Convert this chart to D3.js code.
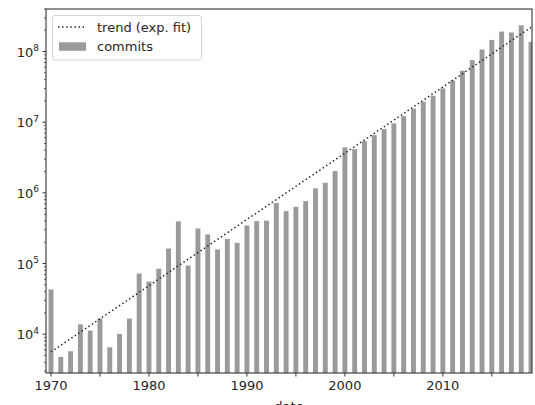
<!DOCTYPE html>
<html>
<head>
<meta charset="utf-8">
<script src="https://cdn.jsdelivr.net/npm/d3@7"></script>
<style>
  body { margin: 0; background: #fff; }
  svg { display: block; font-family: "DejaVu Sans", sans-serif; }
</style>
</head>
<body>
<svg id="chart" width="535" height="405"></svg>
<script>
// commits per year
const years = [
  1970, 1971, 1972, 1973, 1974, 1975, 1976, 1977, 1978, 1979,
  1980, 1981, 1982, 1983, 1984, 1985, 1986, 1987, 1988, 1989,
  1990, 1991, 1992, 1993, 1994, 1995, 1996, 1997, 1998, 1999,
  2000, 2001, 2002, 2003, 2004, 2005, 2006, 2007, 2008, 2009,
  2010, 2011, 2012, 2013, 2014, 2015, 2016, 2017, 2018, 2019
];
const commits = [
  42900, 4750, 5730, 13800, 11250, 16600, 6520, 10070, 16600, 72100,
  55600, 84400, 163000, 394000, 93700, 313000, 258000, 158000, 223000, 196000,
  345000, 397000, 404000, 719000, 551000, 634000, 763000, 1154000, 1386000, 2030000,
  4400000, 4160000, 5400000, 6560000, 7980000, 9620000, 12200000, 15600000, 19500000, 23700000,
  30100000, 38800000, 53500000, 75800000, 107000000, 146000000, 192000000, 186000000, 235000000, 137000000
];
// exponential fit, drawn between its end points
const trendYears = [1970, 2019];
const trendValues = [5600, 220000000];

const xTicks = [1970, 1975, 1980, 1985, 1990, 1995, 2000, 2005, 2010, 2015];
const xLabels = [1970, 1980, 1990, 2000, 2010];
const yExponents = [4, 5, 6, 7, 8];

const margin = { left: 46, right: 532, top: 9, bottom: 373 };
const svg = d3.select('#chart');

const x = d3.scaleLinear()
  .domain([1969.49, 2019.1])
  .range([margin.left, margin.right]);

const y = d3.scaleLog()
  .domain([2820, 4.0e8])
  .range([margin.bottom, margin.top]);

const barW = x(1970.5) - x(1970);

svg.append('clipPath')
  .attr('id', 'plot-clip')
  .append('rect')
  .attr('x', margin.left)
  .attr('y', margin.top)
  .attr('width', margin.right - margin.left)
  .attr('height', margin.bottom - margin.top);

const plot = svg.append('g').attr('clip-path', 'url(#plot-clip)');

plot.selectAll('rect.bar')
  .data(years.map((yr, i) => ({ yr, v: commits[i] })))
  .join('rect')
  .attr('class', 'bar')
  .attr('x', d => x(d.yr) - barW / 2)
  .attr('y', d => y(d.v))
  .attr('width', barW)
  .attr('height', d => margin.bottom - y(d.v))
  .attr('fill', '#9a9a9a');

const line = d3.line()
  .x(d => x(d[0]))
  .y(d => y(d[1]));

plot.append('path')
  .datum(trendYears.map((yr, i) => [yr, trendValues[i]]))
  .attr('d', line)
  .attr('fill', 'none')
  .attr('stroke', '#2a2a2a')
  .attr('stroke-width', 1.5)
  .attr('stroke-dasharray', '1.5,2.6');

// frame
svg.append('rect')
  .attr('x', margin.left)
  .attr('y', margin.top)
  .attr('width', margin.right - margin.left)
  .attr('height', margin.bottom - margin.top)
  .attr('fill', 'none')
  .attr('stroke', '#333')
  .attr('stroke-width', 1.1);

// x axis
const xAxis = svg.append('g');
xAxis.selectAll('line')
  .data(xTicks)
  .join('line')
  .attr('x1', d => x(d)).attr('x2', d => x(d))
  .attr('y1', margin.bottom).attr('y2', margin.bottom + 3.5)
  .attr('stroke', '#333').attr('stroke-width', 1);

xAxis.selectAll('text')
  .data(xLabels)
  .join('text')
  .attr('x', d => x(d))
  .attr('y', margin.bottom + 17)
  .attr('text-anchor', 'middle')
  .attr('font-size', 13)
  .attr('fill', '#262626')
  .text(d => d);

svg.append('text')
  .attr('x', (margin.left + margin.right) / 2)
  .attr('y', 411)
  .attr('text-anchor', 'middle')
  .attr('font-size', 13)
  .attr('fill', '#262626')
  .text('date');

// y axis: major + log minor ticks
const yAxis = svg.append('g');
const minor = [];
for (let e = 3; e <= 8; e++) {
  for (let m = 2; m <= 9; m++) {
    const v = m * Math.pow(10, e);
    if (v >= y.domain()[0] && v <= y.domain()[1]) minor.push(v);
  }
}
yAxis.selectAll('line.minor')
  .data(minor)
  .join('line')
  .attr('class', 'minor')
  .attr('x1', margin.left - 2).attr('x2', margin.left)
  .attr('y1', d => y(d)).attr('y2', d => y(d))
  .attr('stroke', '#333').attr('stroke-width', 0.8);

yAxis.selectAll('line.major')
  .data(yExponents)
  .join('line')
  .attr('class', 'major')
  .attr('x1', margin.left - 3.5).attr('x2', margin.left)
  .attr('y1', d => y(Math.pow(10, d))).attr('y2', d => y(Math.pow(10, d)))
  .attr('stroke', '#333').attr('stroke-width', 1);

const yLab = yAxis.selectAll('text')
  .data(yExponents)
  .join('text')
  .attr('x', 39)
  .attr('y', d => y(Math.pow(10, d)) + 5)
  .attr('text-anchor', 'end')
  .attr('fill', '#262626');
yLab.append('tspan').attr('font-size', 13).text('10');
yLab.append('tspan')
  .attr('font-size', 9)
  .attr('dy', -5.5)
  .text(d => d);

// legend
const lg = svg.append('g');
lg.append('rect')
  .attr('x', 52.5).attr('y', 15.5)
  .attr('width', 149).attr('height', 44.5)
  .attr('rx', 2.5)
  .attr('fill', 'rgba(255,255,255,0.8)')
  .attr('stroke', '#d4d4d4')
  .attr('stroke-width', 1);
lg.append('line')
  .attr('x1', 58).attr('x2', 84)
  .attr('y1', 27).attr('y2', 27)
  .attr('stroke', '#2a2a2a')
  .attr('stroke-width', 1.5)
  .attr('stroke-dasharray', '1.5,2.6');
lg.append('rect')
  .attr('x', 59).attr('y', 42.3)
  .attr('width', 27).attr('height', 8.5)
  .attr('fill', '#9a9a9a');
lg.append('text')
  .attr('x', 97).attr('y', 31.5)
  .attr('font-size', 13).attr('fill', '#262626')
  .text('trend (exp. fit)');
lg.append('text')
  .attr('x', 97).attr('y', 51)
  .attr('font-size', 13).attr('fill', '#262626')
  .text('commits');
</script>
</body>
</html>
